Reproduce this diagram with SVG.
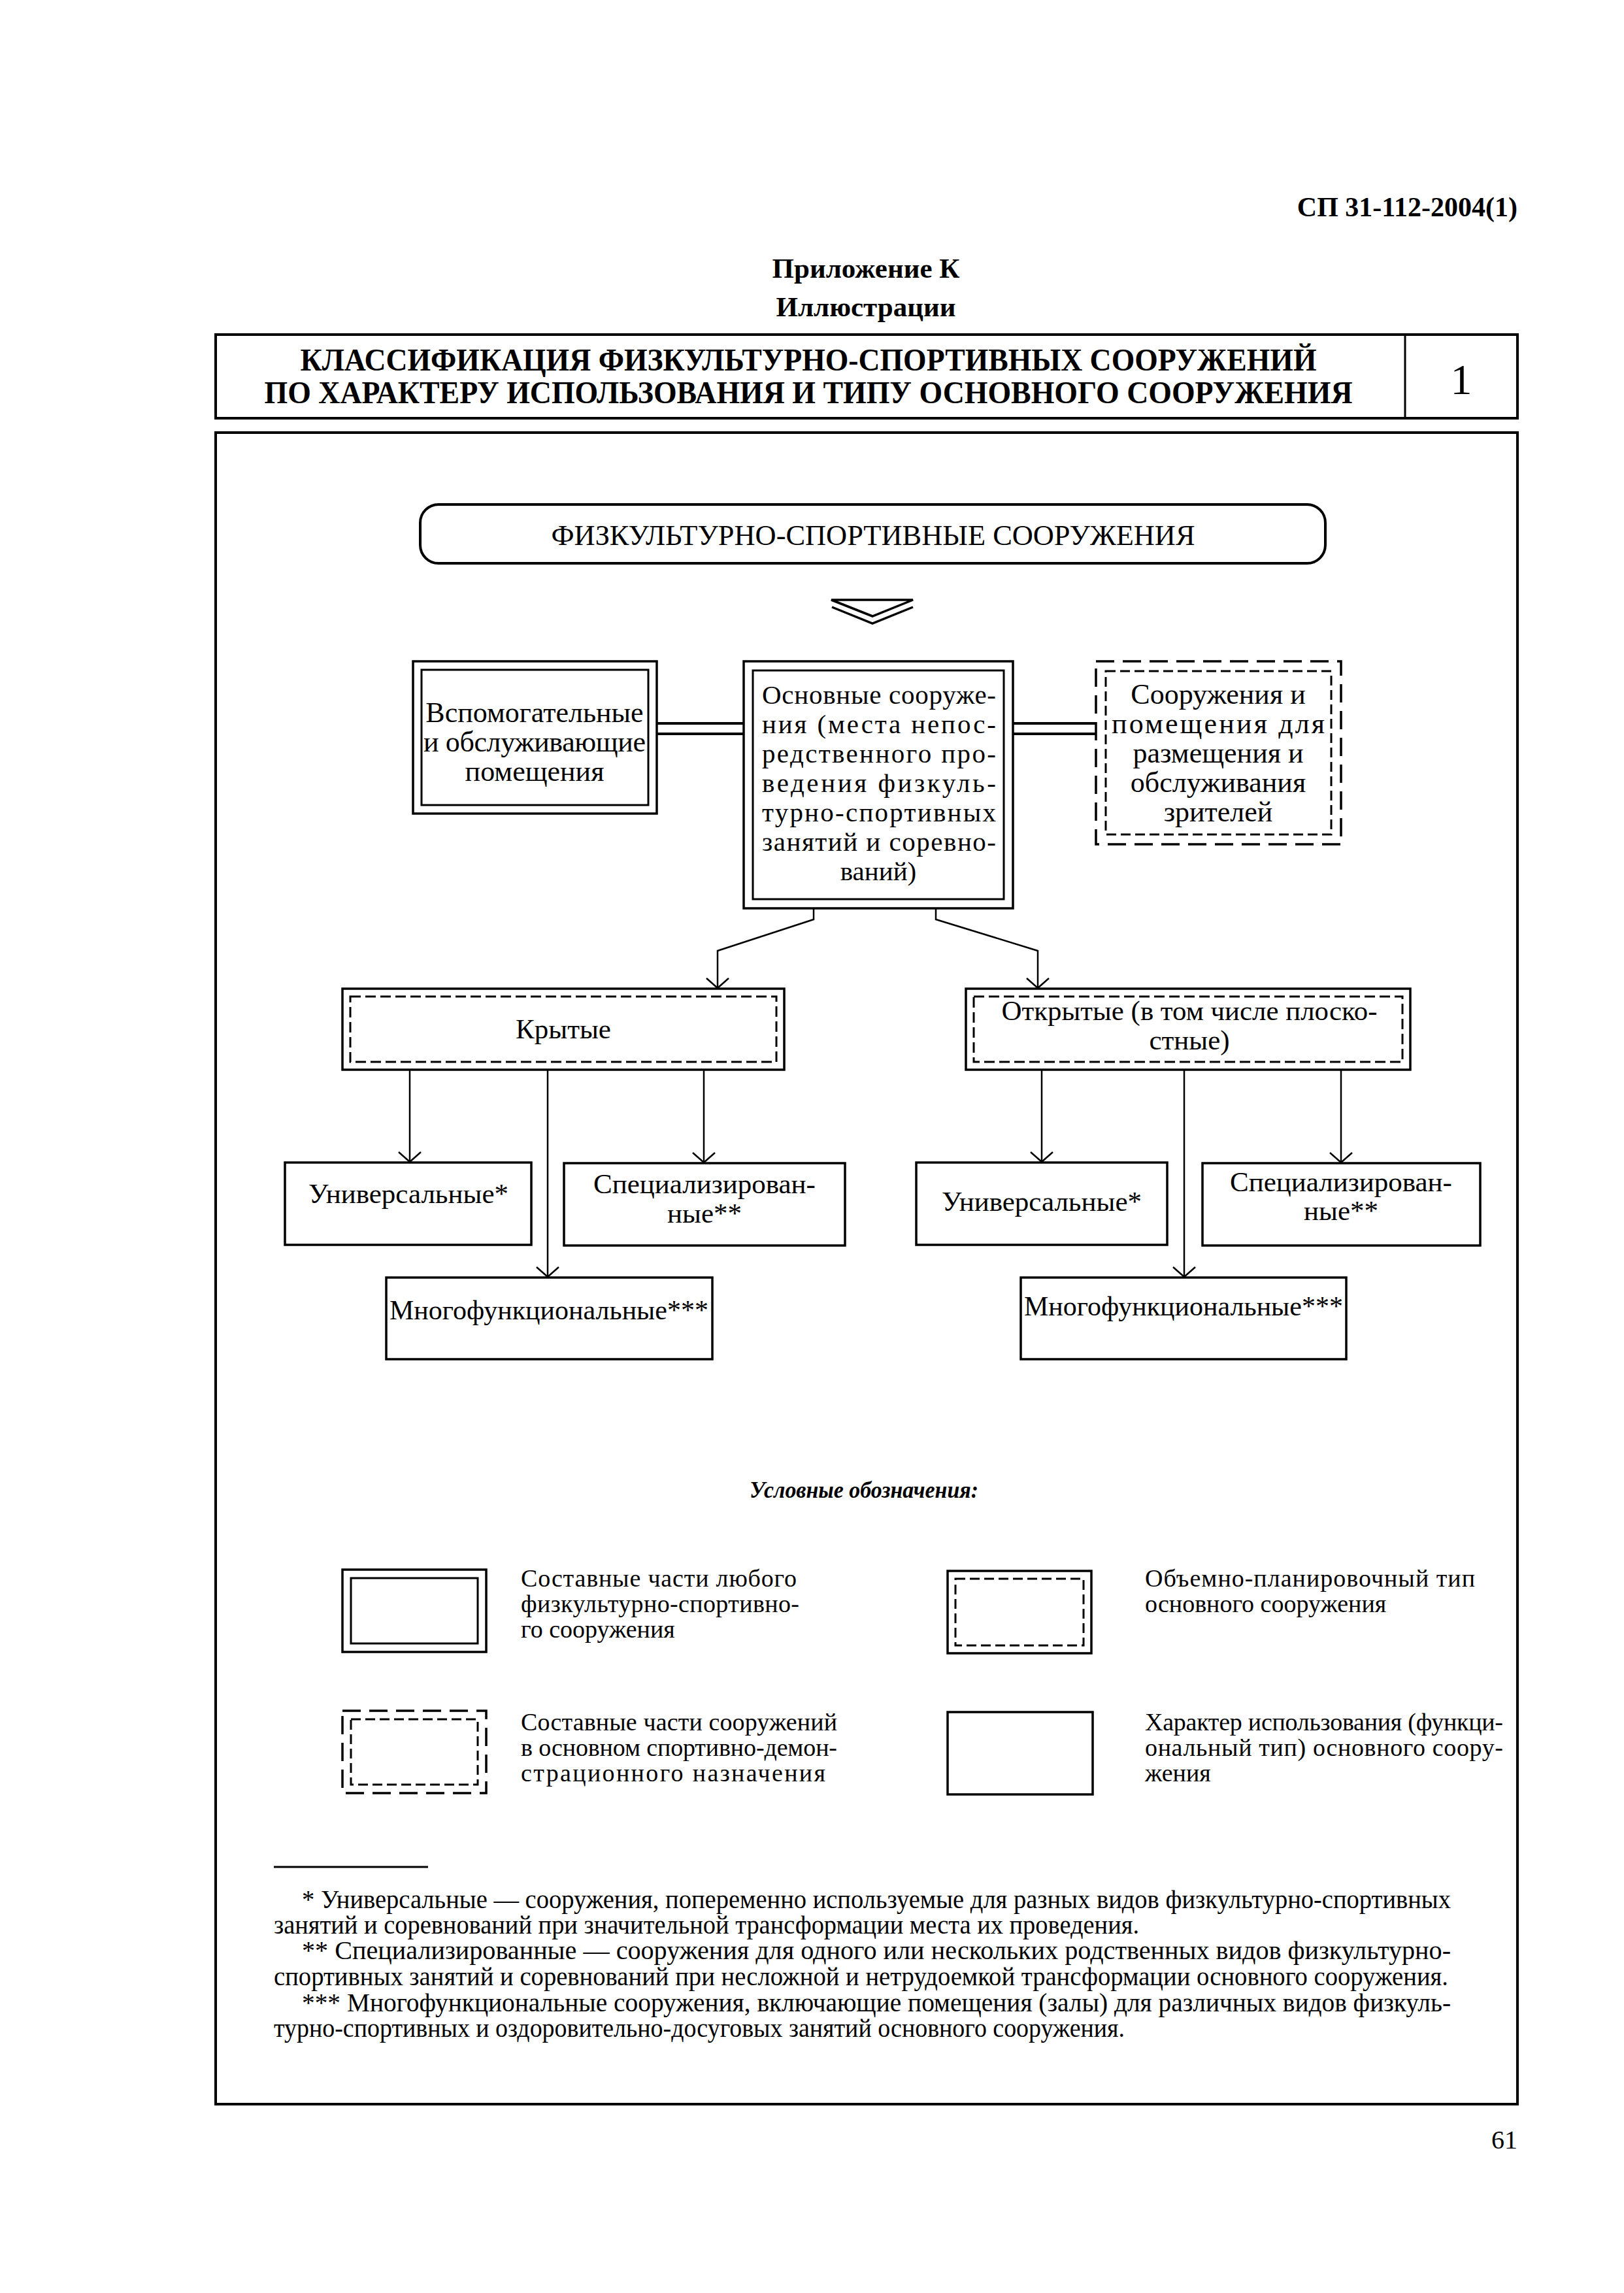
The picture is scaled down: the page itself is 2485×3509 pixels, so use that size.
<svg xmlns="http://www.w3.org/2000/svg" width="2485" height="3509" viewBox="0 0 2485 3509">
<style>
.t{font-family:"Liberation Serif","Times New Roman",serif;fill:#000}
.b{font-weight:bold}
.m{text-anchor:middle}
.e{text-anchor:end}
.n{font-size:43px}
.k{font-size:41px}
.s{font-size:38px}
.f{font-size:40px}
.frame{fill:none;stroke:#000;stroke-width:4}
.box{fill:none;stroke:#000;stroke-width:3.5}
.in{fill:none;stroke:#000;stroke-width:3}
.dl{stroke-dasharray:28 13}
.ds{stroke-dasharray:15 7}
.ln{fill:none;stroke:#000;stroke-width:2.5}
.dbl{fill:none;stroke:#000;stroke-width:4}
</style>
<defs>
<marker id="arr" viewBox="-20 -20 40 40" markerWidth="40" markerHeight="40" refX="0" refY="0" orient="auto" markerUnits="userSpaceOnUse" overflow="visible">
<path d="M-15,-17 L0,0 L-15,17" fill="none" stroke="#000" stroke-width="2.5"/>
</marker>
</defs>
<rect width="2485" height="3509" fill="#fff"/>

<g id="header">
<text class="t b e" x="2322" y="331" font-size="42">СП 31-112-2004(1)</text>
<text class="t b m" x="1325" y="425" font-size="43">Приложение К</text>
<text class="t b m" x="1325" y="484" font-size="43">Иллюстрации</text>
</g>

<g id="title">
<rect class="frame" x="330" y="512" width="1992" height="128"/>
<line x1="2150" y1="512" x2="2150" y2="640" stroke="#000" stroke-width="3"/>
<text class="t b m" x="1237" y="567" font-size="48" textLength="1555" lengthAdjust="spacingAndGlyphs">КЛАССИФИКАЦИЯ ФИЗКУЛЬТУРНО-СПОРТИВНЫХ СООРУЖЕНИЙ</text>
<text class="t b m" x="1237" y="617" font-size="48" textLength="1665" lengthAdjust="spacingAndGlyphs">ПО ХАРАКТЕРУ ИСПОЛЬЗОВАНИЯ И ТИПУ ОСНОВНОГО СООРУЖЕНИЯ</text>
<text class="t m" x="2236" y="603" font-size="66">1</text>
</g>

<rect id="main-frame" class="frame" x="330" y="662" width="1992" height="2558"/>

<g id="root">
<rect class="frame" x="643" y="772" width="1385" height="90" rx="28" ry="28"/>
<text class="t m" x="1336" y="834" font-size="44" textLength="985" lengthAdjust="spacingAndGlyphs">ФИЗКУЛЬТУРНО-СПОРТИВНЫЕ СООРУЖЕНИЯ</text>
</g>

<g id="chevron" fill="none" stroke="#000" stroke-width="3.5" stroke-linejoin="miter">
<path d="M1272,918 L1397,918 L1335,943 Z"/>
<path d="M1273,929 L1335,954 L1397,929"/>
</g>

<g id="aux">
<rect class="box" x="632" y="1012" width="373" height="233"/>
<rect class="in" x="645" y="1025" width="347" height="207"/>
<text class="t m" font-size="44" x="818" y="1105">Вспомогательные</text>
<text class="t m" font-size="44" x="818" y="1150" textLength="340">и обслуживающие</text>
<text class="t m" font-size="44" x="818" y="1195">помещения</text>
</g>

<g id="main">
<rect class="box" x="1138" y="1012" width="412" height="378"/>
<rect class="in" x="1152" y="1026" width="384" height="350"/>
<text class="t k" x="1166" y="1077" textLength="358">Основные сооруже-</text>
<text class="t k" x="1166" y="1122" textLength="358">ния (места непос-</text>
<text class="t k" x="1166" y="1167" textLength="358">редственного про-</text>
<text class="t k" x="1166" y="1212" textLength="358">ведения физкуль-</text>
<text class="t k" x="1166" y="1257" textLength="358">турно-спортивных</text>
<text class="t k" x="1166" y="1302" textLength="358">занятий и соревно-</text>
<text class="t m k" x="1344" y="1347">ваний)</text>
</g>

<g id="spectators">
<rect class="box dl" x="1677" y="1012" width="375" height="280"/>
<rect class="in ds" x="1692" y="1027" width="345" height="250"/>
<text class="t m" font-size="44" x="1864" y="1077">Сооружения и</text>
<text class="t m" font-size="44" x="1864" y="1122" textLength="326">помещения для</text>
<text class="t m" font-size="44" x="1864" y="1167">размещения и</text>
<text class="t m" font-size="44" x="1864" y="1212">обслуживания</text>
<text class="t m" font-size="44" x="1864" y="1257">зрителей</text>
</g>

<g id="covered">
<rect class="box" x="524" y="1513" width="676" height="124"/>
<rect class="in" x="536" y="1525" width="652" height="100" stroke-dasharray="16 7"/>
<text class="t m n" x="862" y="1589">Крытые</text>
</g>

<g id="open">
<rect class="box" x="1478" y="1513" width="680" height="124"/>
<rect class="in" x="1490" y="1525" width="656" height="100" stroke-dasharray="16 7"/>
<text class="t m n" x="1820" y="1561" textLength="575" lengthAdjust="spacingAndGlyphs">Открытые (в том числе плоско-</text>
<text class="t m n" x="1820" y="1606">стные)</text>
</g>

<g id="cov-universal">
<rect class="box" x="436" y="1779" width="377" height="126"/>
<text class="t m n" x="625" y="1841">Универсальные*</text>
</g>
<g id="cov-special">
<rect class="box" x="863" y="1780" width="430" height="126"/>
<text class="t m n" x="1078" y="1826">Специализирован-</text>
<text class="t m n" x="1078" y="1871">ные**</text>
</g>
<g id="cov-multi">
<rect class="box" x="591" y="1955" width="499" height="125"/>
<text class="t m n" x="840" y="2019" textLength="488" lengthAdjust="spacingAndGlyphs">Многофункциональные***</text>
</g>

<g id="open-universal">
<rect class="box" x="1402" y="1779" width="384" height="126"/>
<text class="t m n" x="1594" y="1853">Универсальные*</text>
</g>
<g id="open-special">
<rect class="box" x="1840" y="1780" width="425" height="126"/>
<text class="t m n" x="2052" y="1823">Специализирован-</text>
<text class="t m n" x="2052" y="1867">ные**</text>
</g>
<g id="open-multi">
<rect class="box" x="1562" y="1955" width="498" height="125"/>
<text class="t m n" x="1811" y="2013" textLength="488" lengthAdjust="spacingAndGlyphs">Многофункциональные***</text>
</g>

<g id="connectors">
<line class="dbl" x1="1005" y1="1107" x2="1138" y2="1107"/>
<line class="dbl" x1="1005" y1="1123" x2="1138" y2="1123"/>
<line class="dbl" x1="1550" y1="1107" x2="1677" y2="1107"/>
<line class="dbl" x1="1550" y1="1123" x2="1677" y2="1123"/>
<path class="ln" stroke-width="3" d="M1245,1390 V1407 L1098,1455 V1512" marker-end="url(#arr)"/>
<path class="ln" stroke-width="3" d="M1432,1390 V1407 L1588,1455 V1512" marker-end="url(#arr)"/>
<path class="ln" d="M627,1637 V1778" marker-end="url(#arr)"/>
<path class="ln" d="M838,1637 V1954" marker-end="url(#arr)"/>
<path class="ln" d="M1077,1637 V1779" marker-end="url(#arr)"/>
<path class="ln" d="M1594,1637 V1778" marker-end="url(#arr)"/>
<path class="ln" d="M1812,1637 V1954" marker-end="url(#arr)"/>
<path class="ln" d="M2052,1637 V1779" marker-end="url(#arr)"/>
</g>

<g id="legend">
<text class="t b m" x="1322" y="2292" font-size="36" font-style="italic" textLength="350" lengthAdjust="spacingAndGlyphs">Условные обозначения:</text>
<g id="legend-1">
<rect class="box" x="524" y="2402" width="220" height="126"/>
<rect class="in" x="537" y="2415" width="194" height="100"/>
<text class="t s" x="797" y="2428" textLength="422">Составные части любого</text>
<text class="t s" x="797" y="2467" textLength="426">физкультурно-спортивно-</text>
<text class="t s" x="797" y="2506">го сооружения</text>
</g>
<g id="legend-2">
<rect class="box" x="1450" y="2404" width="220" height="126"/>
<rect class="in ds" x="1462" y="2416" width="196" height="102"/>
<text class="t s" x="1752" y="2428" textLength="505">Объемно-планировочный тип</text>
<text class="t s" x="1752" y="2467">основного сооружения</text>
</g>
<g id="legend-3">
<rect class="box dl" x="524" y="2618" width="220" height="126"/>
<rect class="in ds" x="537" y="2631" width="194" height="100"/>
<text class="t s" x="797" y="2648" textLength="484">Составные части сооружений</text>
<text class="t s" x="797" y="2687" textLength="484">в основном спортивно-демон-</text>
<text class="t s" x="797" y="2726" textLength="466">страционного назначения</text>
</g>
<g id="legend-4">
<rect class="box" x="1450" y="2620" width="222" height="126"/>
<text class="t s" x="1752" y="2648" textLength="548">Характер использования (функци-</text>
<text class="t s" x="1752" y="2687" textLength="548">ональный тип) основного соору-</text>
<text class="t s" x="1752" y="2726">жения</text>
</g>
</g>

<g id="footnotes">
<line x1="419" y1="2857" x2="655" y2="2857" stroke="#000" stroke-width="3"/>
<text class="t f" x="462" y="2920" textLength="1758" lengthAdjust="spacingAndGlyphs">* Универсальные — сооружения, попеременно используемые для разных видов физкультурно-спортивных</text>
<text class="t f" x="419" y="2959" textLength="1324" lengthAdjust="spacingAndGlyphs">занятий и соревнований при значительной трансформации места их проведения.</text>
<text class="t f" x="462" y="2998" textLength="1758" lengthAdjust="spacingAndGlyphs">** Специализированные — сооружения для одного или нескольких родственных видов физкультурно-</text>
<text class="t f" x="419" y="3038" textLength="1797" lengthAdjust="spacingAndGlyphs">спортивных занятий и соревнований при несложной и нетрудоемкой трансформации основного сооружения.</text>
<text class="t f" x="462" y="3078" textLength="1758" lengthAdjust="spacingAndGlyphs">*** Многофункциональные сооружения, включающие помещения (залы) для различных видов физкуль-</text>
<text class="t f" x="419" y="3117" textLength="1302" lengthAdjust="spacingAndGlyphs">турно-спортивных и оздоровительно-досуговых занятий основного сооружения.</text>
</g>

<text id="page-number" class="t e" x="2322" y="3288" font-size="40">61</text>
</svg>
